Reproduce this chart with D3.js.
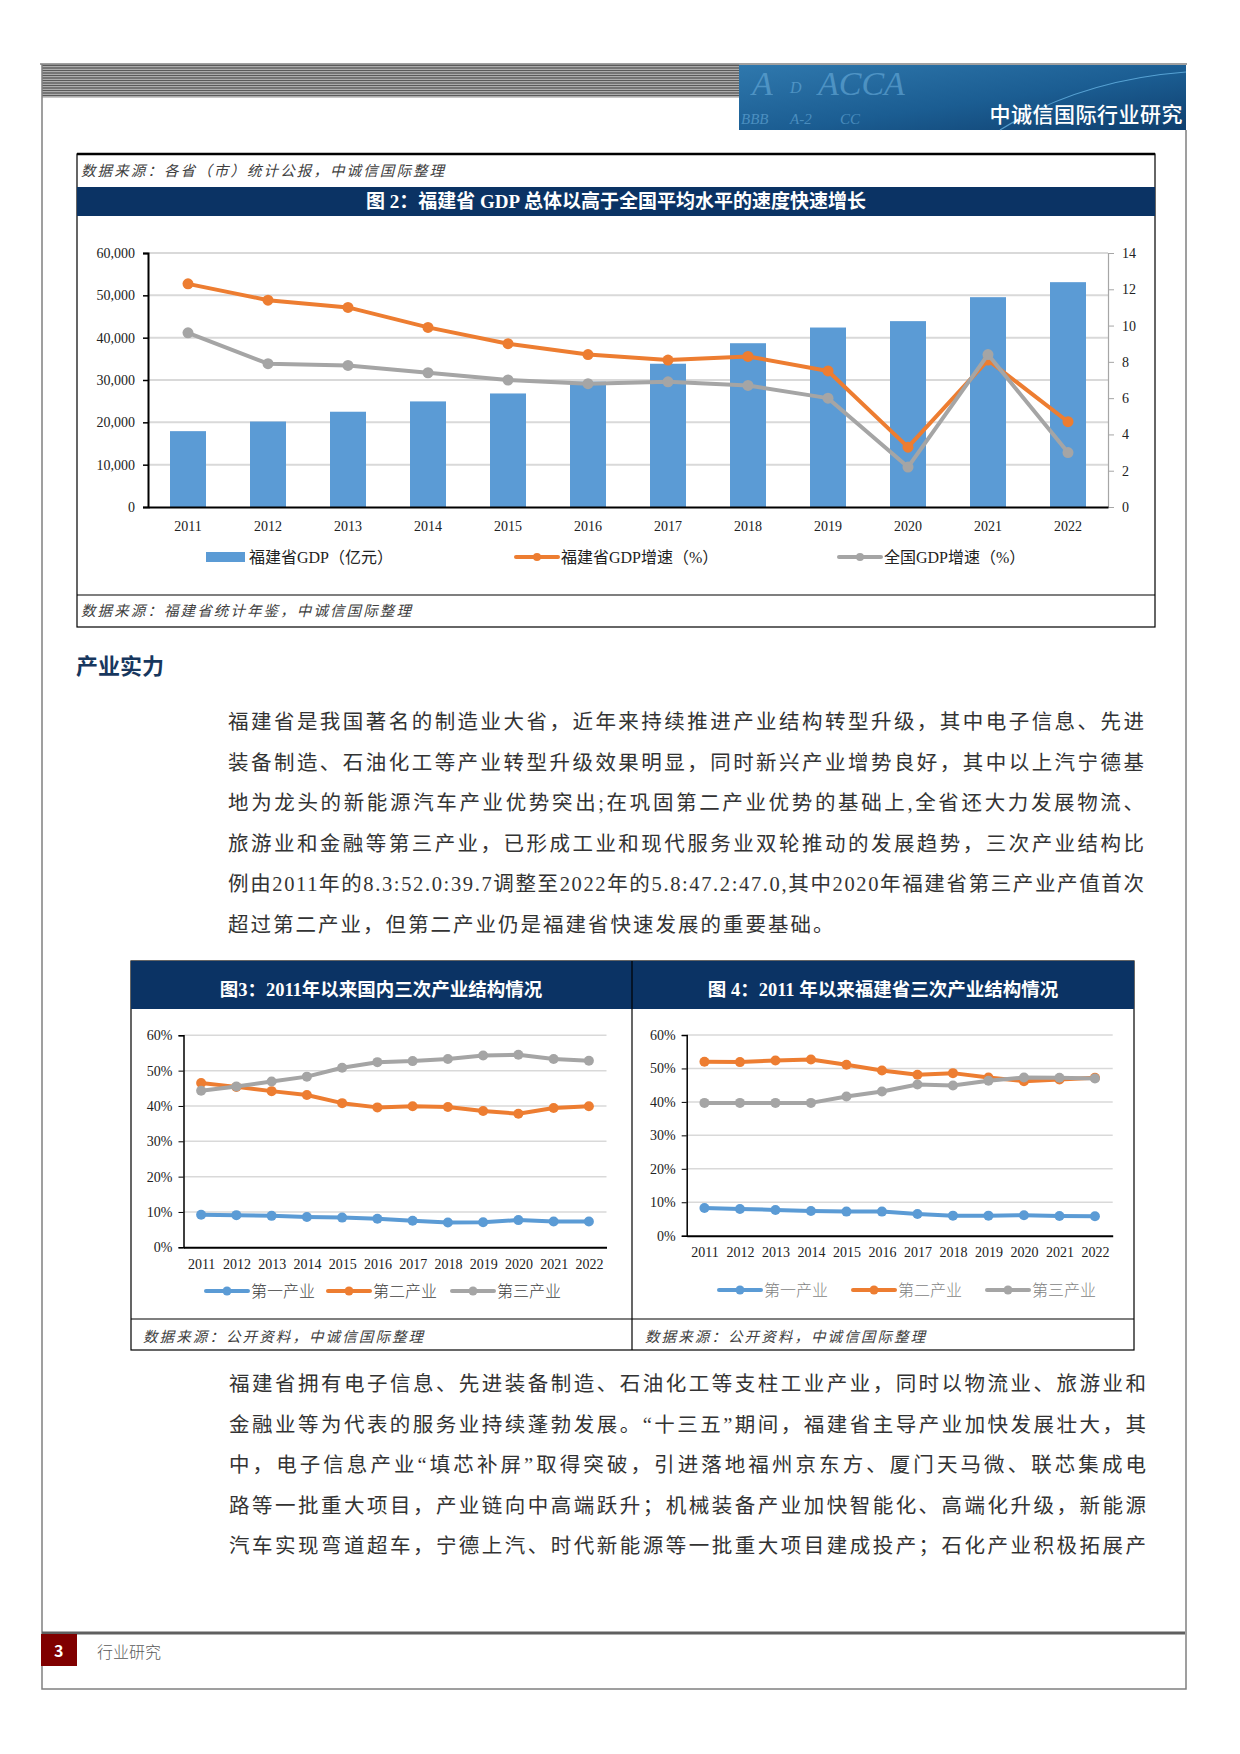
<!DOCTYPE html>
<html>
<head>
<meta charset="utf-8">
<script src="https://cdn.jsdelivr.net/npm/d3@7"></script>
<style>
body { margin: 0; background: #fff; }
svg text { font-family: "Liberation Serif", "Noto Sans CJK SC", serif; }
.cjk { font-family: "Noto Sans CJK SC", sans-serif !important; }
</style>
</head>
<body>
<svg id="page" width="1240" height="1754"></svg>
<script>
// ---- data ----
var years = ["2011","2012","2013","2014","2015","2016","2017","2018","2019","2020","2021","2022"];

// fig 2: Fujian GDP (100m yuan) and growth rates (%)
var fjGdp    = [17917, 20190, 22504, 24942, 26819, 29609, 33842, 38687, 42395, 43904, 49566, 53110];
var fjGrowth = [12.3, 11.4, 11.0, 9.9, 9.0, 8.4, 8.1, 8.3, 7.5, 3.3, 8.1, 4.7];
var cnGrowth = [9.6, 7.9, 7.8, 7.4, 7.0, 6.8, 6.9, 6.7, 6.0, 2.2, 8.4, 3.0];
var gdpTicks = [0, 10000, 20000, 30000, 40000, 50000, 60000];
var rateTicks = [0, 2, 4, 6, 8, 10, 12, 14];

// fig 3: national industry structure (%)
var cnPrimary   = [9.2, 9.1, 8.9, 8.6, 8.4, 8.1, 7.5, 7.0, 7.1, 7.7, 7.3, 7.3];
var cnSecondary = [46.5, 45.4, 44.2, 43.1, 40.8, 39.6, 39.9, 39.7, 38.6, 37.8, 39.4, 39.9];
var cnTertiary  = [44.3, 45.5, 46.9, 48.3, 50.8, 52.4, 52.7, 53.3, 54.3, 54.5, 53.3, 52.8];

// fig 4: Fujian industry structure (%)
var fjPrimary   = [8.3, 8.0, 7.7, 7.4, 7.2, 7.2, 6.5, 6.0, 6.0, 6.1, 5.9, 5.8];
var fjSecondary = [52.0, 51.9, 52.4, 52.7, 51.1, 49.4, 48.1, 48.6, 47.3, 46.2, 46.7, 47.2];
var fjTertiary  = [39.7, 39.7, 39.7, 39.7, 41.6, 43.1, 45.2, 44.9, 46.3, 47.3, 47.2, 47.0];
var pctTicks = [0, 10, 20, 30, 40, 50, 60];

var industryNames = ["第一产业", "第二产业", "第三产业"];

var para1 = [
  "福建省是我国著名的制造业大省，近年来持续推进产业结构转型升级，其中电子信息、先进",
  "装备制造、石油化工等产业转型升级效果明显，同时新兴产业增势良好，其中以上汽宁德基",
  "地为龙头的新能源汽车产业优势突出;在巩固第二产业优势的基础上,全省还大力发展物流、",
  "旅游业和金融等第三产业，已形成工业和现代服务业双轮推动的发展趋势，三次产业结构比",
  "例由2011年的8.3:52.0:39.7调整至2022年的5.8:47.2:47.0,其中2020年福建省第三产业产值首次",
  "超过第二产业，但第二产业仍是福建省快速发展的重要基础。"
];
var para2 = [
  "福建省拥有电子信息、先进装备制造、石油化工等支柱工业产业，同时以物流业、旅游业和",
  "金融业等为代表的服务业持续蓬勃发展。“十三五”期间，福建省主导产业加快发展壮大，其",
  "中，电子信息产业“填芯补屏”取得突破，引进落地福州京东方、厦门天马微、联芯集成电",
  "路等一批重大项目，产业链向中高端跃升；机械装备产业加快智能化、高端化升级，新能源",
  "汽车实现弯道超车，宁德上汽、时代新能源等一批重大项目建成投产；石化产业积极拓展产"
];

var BLUE = "#5b9bd5", ORANGE = "#ed7d31", GRAY = "#a5a5a5", NAVY = "#0b3364", GRID = "#d9d9d9";

var svg = d3.select("#page");

// ---- page header ----
var hdr = svg.append("g");
hdr.append("line").attr("x1", 40).attr("x2", 1187).attr("y1", 64).attr("y2", 64)
  .attr("stroke", "#808080").attr("stroke-width", 1.5);
hdr.append("rect").attr("x", 42).attr("y", 65).attr("width", 697).attr("height", 33).attr("fill", "#c8c8c8");
d3.range(65.5, 98, 2.5).forEach(function(yy){
  hdr.append("line").attr("x1", 42).attr("x2", 739).attr("y1", yy).attr("y2", yy)
    .attr("stroke", "#5a5a5a").attr("stroke-width", 1.3);
});
var defs = svg.append("defs");
var grad = defs.append("linearGradient").attr("id", "bannerGrad").attr("x1", 0).attr("x2", 1).attr("y1", 0).attr("y2", 1);
grad.append("stop").attr("offset", "0%").attr("stop-color", "#2f78ad");
grad.append("stop").attr("offset", "55%").attr("stop-color", "#1b5d92");
grad.append("stop").attr("offset", "100%").attr("stop-color", "#0f3f6e");
hdr.append("rect").attr("x", 739).attr("y", 65).attr("width", 447).attr("height", 65).attr("fill", "url(#bannerGrad)");
// decorative rating letters in the banner
var deco = [
  {t: "A", x: 752, y: 95, s: 34}, {t: "D", x: 790, y: 93, s: 16}, {t: "ACCA", x: 818, y: 95, s: 34},
  {t: "BBB", x: 741, y: 124, s: 15}, {t: "A-2", x: 790, y: 124, s: 15}, {t: "CC", x: 840, y: 124, s: 15}
];
deco.forEach(function(d){
  hdr.append("text").attr("x", d.x).attr("y", d.y).attr("font-size", d.s).attr("font-style", "italic")
    .attr("fill", "#6fb3e0").attr("opacity", 0.55).text(d.t);
});
hdr.append("path").attr("d", "M1000,130 Q1080,80 1186,72").attr("fill", "none")
  .attr("stroke", "#7fd0ff").attr("stroke-width", 1.2).attr("opacity", 0.6);
hdr.append("text").attr("class", "cjk").attr("x", 1183).attr("y", 122).attr("text-anchor", "end")
  .attr("font-size", 21).attr("font-weight", 500).attr("fill", "#fff").attr("letter-spacing", 0.5)
  .text("中诚信国际行业研究");

// page frame
svg.append("path").attr("d", "M42,64 V1689 H1186 V130").attr("fill", "none")
  .attr("stroke", "#808080").attr("stroke-width", 1.5);

function sourceText(g, x, y, t) {
  g.append("text").attr("class", "cjk").attr("x", x).attr("y", y).attr("font-size", 14.5)
    .attr("letter-spacing", 2.1).attr("font-style", "italic").attr("fill", "#404040").text(t);
}

// ---- figure 2 ----
var f2 = svg.append("g");
f2.append("rect").attr("x", 77).attr("y", 154).attr("width", 1078).attr("height", 473)
  .attr("fill", "none").attr("stroke", "#000").attr("stroke-width", 1.2);
f2.append("line").attr("x1", 77).attr("x2", 1155).attr("y1", 154).attr("y2", 154).attr("stroke", "#000").attr("stroke-width", 2.5);
sourceText(f2, 81, 176, "数据来源：各省（市）统计公报，中诚信国际整理");
f2.append("rect").attr("x", 77).attr("y", 187).attr("width", 1078).attr("height", 29).attr("fill", NAVY);
f2.append("text").attr("x", 616).attr("y", 208).attr("text-anchor", "middle").attr("font-size", 19)
  .attr("font-weight", "bold").attr("fill", "#fff").text("图 2：福建省 GDP 总体以高于全国平均水平的速度快速增长");
f2.append("line").attr("x1", 77).attr("x2", 1155).attr("y1", 595).attr("y2", 595).attr("stroke", "#000").attr("stroke-width", 1.2);
sourceText(f2, 81, 616, "数据来源：福建省统计年鉴，中诚信国际整理");

var x2 = d3.scaleBand().domain(years).range([148, 1108]).paddingInner(0.55).paddingOuter(0.275);
var yL = d3.scaleLinear().domain([0, 60000]).range([507, 253]);
var yR = d3.scaleLinear().domain([0, 14]).range([507, 253]);

f2.append("g").selectAll("line").data(gdpTicks.slice(1)).enter().append("line")
  .attr("x1", 148).attr("x2", 1108).attr("y1", function(d){ return yL(d); }).attr("y2", function(d){ return yL(d); })
  .attr("stroke", GRID).attr("stroke-width", 2);

f2.append("g").selectAll("rect").data(fjGdp).enter().append("rect")
  .attr("x", function(d, i){ return x2(years[i]); })
  .attr("width", x2.bandwidth())
  .attr("y", function(d){ return yL(d); })
  .attr("height", function(d){ return yL(0) - yL(d); })
  .attr("fill", BLUE);

var axL = f2.append("g").attr("transform", "translate(148,0)")
  .call(d3.axisLeft(yL).tickValues(gdpTicks).tickSize(5).tickPadding(8).tickFormat(d3.format(",")));
axL.select(".domain").attr("stroke", "#000").attr("stroke-width", 2);
axL.selectAll(".tick line").attr("stroke", "#000").attr("stroke-width", 1.5);
axL.selectAll("text").attr("font-size", 14).attr("fill", "#222").attr("font-family", "Liberation Serif");

var axR = f2.append("g").attr("transform", "translate(1108,0)")
  .call(d3.axisRight(yR).tickValues(rateTicks).tickSize(6).tickPadding(8));
axR.select(".domain").attr("stroke", "#a6a6a6").attr("stroke-width", 1.2);
axR.selectAll(".tick line").attr("stroke", "#a6a6a6");
axR.selectAll("text").attr("font-size", 14).attr("fill", "#222").attr("font-family", "Liberation Serif");

var axB = f2.append("g").attr("transform", "translate(0,507)")
  .call(d3.axisBottom(x2).tickSize(0).tickPadding(14));
axB.select(".domain").attr("stroke", "#000").attr("stroke-width", 2);
axB.selectAll("text").attr("font-size", 14).attr("fill", "#222").attr("font-family", "Liberation Serif");

function plotSeries(g, xs, ys, values, color, lw, r) {
  var line = d3.line().x(function(d, i){ return xs(i); }).y(function(d){ return ys(d); });
  g.append("path").datum(values).attr("d", line).attr("fill", "none")
    .attr("stroke", color).attr("stroke-width", lw).attr("stroke-linejoin", "round").attr("stroke-linecap", "round");
  g.append("g").selectAll("circle").data(values).enter().append("circle")
    .attr("cx", function(d, i){ return xs(i); }).attr("cy", function(d){ return ys(d); })
    .attr("r", r).attr("fill", color);
}
var x2c = function(i){ return x2(years[i]) + x2.bandwidth() / 2; };
plotSeries(f2, x2c, yR, fjGrowth, ORANGE, 4, 5.5);
plotSeries(f2, x2c, yR, cnGrowth, GRAY, 4, 5.5);

// legend fig 2
var lg2 = f2.append("g").attr("font-size", 16).attr("fill", "#222");
lg2.append("rect").attr("x", 206).attr("y", 552).attr("width", 39).attr("height", 10).attr("fill", BLUE);
lg2.append("text").attr("x", 249).attr("y", 563).text("福建省GDP（亿元）");
[{c: ORANGE, x: 516, t: "福建省GDP增速（%）"}, {c: GRAY, x: 839, t: "全国GDP增速（%）"}].forEach(function(d){
  lg2.append("line").attr("x1", d.x).attr("x2", d.x + 42).attr("y1", 557).attr("y2", 557)
    .attr("stroke", d.c).attr("stroke-width", 4).attr("stroke-linecap", "round");
  lg2.append("circle").attr("cx", d.x + 21).attr("cy", 557).attr("r", 4).attr("fill", d.c);
  lg2.append("text").attr("x", d.x + 45).attr("y", 563).text(d.t);
});

// ---- section heading & paragraph 1 ----
svg.append("text").attr("class", "cjk").attr("x", 76).attr("y", 674).attr("font-size", 22)
  .attr("font-weight", "bold").attr("fill", "#17375e").text("产业实力");

function paragraph(lines, x0, y0, width, lastFull) {
  var g = svg.append("g");
  lines.forEach(function(t, i){
    var tx = g.append("text").attr("x", x0).attr("y", y0 + i * 40.6).attr("font-size", 20.5)
      .attr("fill", "#333").text(t);
    if (i < lines.length - 1 || lastFull) tx.attr("textLength", width).attr("lengthAdjust", "spacing");
    else tx.attr("letter-spacing", 2);
  });
}
paragraph(para1, 228, 729, 916, false);

// ---- figures 3 & 4 ----
var tb = svg.append("g");
tb.append("rect").attr("x", 131).attr("y", 961).attr("width", 1003).attr("height", 389)
  .attr("fill", "none").attr("stroke", "#000").attr("stroke-width", 1.2);
tb.append("rect").attr("x", 131).attr("y", 961).attr("width", 1003).attr("height", 48).attr("fill", NAVY);
tb.append("line").attr("x1", 632).attr("x2", 632).attr("y1", 961).attr("y2", 1350).attr("stroke", "#000").attr("stroke-width", 1.2);
tb.append("line").attr("x1", 131).attr("x2", 1134).attr("y1", 1319).attr("y2", 1319).attr("stroke", "#000").attr("stroke-width", 1.2);
tb.append("text").attr("x", 381).attr("y", 996).attr("text-anchor", "middle").attr("font-size", 18.5)
  .attr("font-weight", "bold").attr("fill", "#fff").text("图3：2011年以来国内三次产业结构情况");
tb.append("text").attr("x", 883).attr("y", 996).attr("text-anchor", "middle").attr("font-size", 18.5)
  .attr("font-weight", "bold").attr("fill", "#fff").text("图 4：2011 年以来福建省三次产业结构情况");
[143, 645].forEach(function(xx){
  sourceText(tb, xx, 1342, "数据来源：公开资料，中诚信国际整理");
});

function structureChart(cfg) {
  var g = svg.append("g");
  var xs = d3.scalePoint().domain(years).range([cfg.x0, cfg.x1]).padding(0.5);
  var ys = d3.scaleLinear().domain([0, 60]).range([cfg.y0, cfg.y60]);
  g.append("g").selectAll("line").data(pctTicks.slice(1)).enter().append("line")
    .attr("x1", cfg.x0).attr("x2", cfg.x1).attr("y1", function(d){ return ys(d); }).attr("y2", function(d){ return ys(d); })
    .attr("stroke", GRID).attr("stroke-width", 1.5);
  var ay = g.append("g").attr("transform", "translate(" + cfg.x0 + ",0)")
    .call(d3.axisLeft(ys).tickValues(pctTicks).tickSize(5).tickPadding(6).tickFormat(function(d){ return d + "%"; }));
  ay.select(".domain").attr("stroke", "#000").attr("stroke-width", 1.5);
  ay.selectAll(".tick line").attr("stroke", "#000");
  ay.selectAll("text").attr("font-size", 14).attr("fill", "#222").attr("font-family", "Liberation Serif");
  var ax = g.append("g").attr("transform", "translate(0," + cfg.y0 + ")")
    .call(d3.axisBottom(xs).tickSize(0).tickPadding(cfg.xPad));
  ax.select(".domain").attr("stroke", "#000").attr("stroke-width", 2);
  ax.selectAll("text").attr("font-size", 14).attr("fill", "#222").attr("font-family", "Liberation Serif");
  var xi = function(i){ return xs(years[i]); };
  var colors = [BLUE, ORANGE, GRAY];
  cfg.series.forEach(function(s, k){ plotSeries(g, xi, ys, s, colors[k], 4, 5); });
  cfg.legend.forEach(function(lx, k){
    g.append("line").attr("x1", lx).attr("x2", lx + 42).attr("y1", cfg.ly).attr("y2", cfg.ly)
      .attr("stroke", colors[k]).attr("stroke-width", 4).attr("stroke-linecap", "round");
    g.append("circle").attr("cx", lx + 21).attr("cy", cfg.ly).attr("r", 4.5).attr("fill", colors[k]);
    g.append("text").attr("class", "cjk").attr("x", lx + 45).attr("y", cfg.ly + 6).attr("font-size", 16)
      .attr("font-weight", 300).attr("fill", cfg.legendColor).text(industryNames[k]);
  });
}
structureChart({x0: 183.5, x1: 606.5, y0: 1247.3, y60: 1035.3, xPad: 12,
  series: [cnPrimary, cnSecondary, cnTertiary], legend: [206, 328, 452], ly: 1291, legendColor: "#404040"});
structureChart({x0: 686.7, x1: 1112.7, y0: 1235.7, y60: 1035, xPad: 11,
  series: [fjPrimary, fjSecondary, fjTertiary], legend: [719, 853, 987], ly: 1290, legendColor: "#7f7f7f"});

// ---- paragraph 2 ----
paragraph(para2, 229, 1391, 917, true);

// ---- footer ----
svg.append("line").attr("x1", 42).attr("x2", 1185).attr("y1", 1633).attr("y2", 1633)
  .attr("stroke", "#5f5f5f").attr("stroke-width", 3);
svg.append("rect").attr("x", 41).attr("y", 1634).attr("width", 36).attr("height", 32).attr("fill", "#800000");
svg.append("text").attr("class", "cjk").attr("x", 54).attr("y", 1657).attr("font-size", 16)
  .attr("font-weight", "bold").attr("fill", "#fff").text("3");
svg.append("text").attr("class", "cjk").attr("x", 97).attr("y", 1658).attr("font-size", 16)
  .attr("font-weight", 300).attr("fill", "#595959").text("行业研究");
</script>
</body>
</html>
